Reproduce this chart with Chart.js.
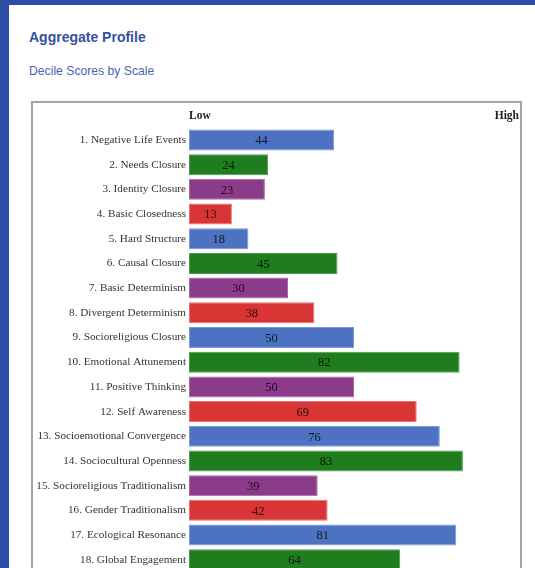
<!DOCTYPE html>
<html lang="en">
<head>
  <meta charset="UTF-8">
  <title>Aggregate Profile</title>
  <script src="https://cdn.jsdelivr.net/npm/chart.js"></script>
  <style>
    html, body { margin: 0; padding: 0; width: 535px; height: 568px; overflow: hidden; background: #2c4ea6; }
    #panel { position: absolute; left: 9px; top: 5px; right: 0; bottom: 0; background: #fff; }
    h1 { position: absolute; left: 29px; top: 29px; margin: 0; font: bold 14px "Liberation Sans", Arial, sans-serif; color: #35519f; }
    h2 { position: absolute; left: 29px; top: 64px; margin: 0; font: 12.2px "Liberation Sans", Arial, sans-serif; color: #4865b4; }
    #box { position: absolute; left: 31px; top: 101px; width: 491px; height: 520px; box-sizing: border-box; border: 2px solid #a4a4a4; }
    #wrap { position: absolute; left: 0; top: 0; width: 535px; height: 600px; }
  </style>
</head>
<body>
  <div id="panel"></div>
  <h1>Aggregate Profile</h1>
  <h2>Decile Scores by Scale</h2>
  <div id="box"></div>
  <div id="wrap"><canvas id="profileChart"></canvas></div>
  <script>
    // Scales and their decile scores
    const scales = [
      '1. Negative Life Events',
      '2. Needs Closure',
      '3. Identity Closure',
      '4. Basic Closedness',
      '5. Hard Structure',
      '6. Causal Closure',
      '7. Basic Determinism',
      '8. Divergent Determinism',
      '9. Socioreligious Closure',
      '10. Emotional Attunement',
      '11. Positive Thinking',
      '12. Self Awareness',
      '13. Socioemotional Convergence',
      '14. Sociocultural Openness',
      '15. Socioreligious Traditionalism',
      '16. Gender Traditionalism',
      '17. Ecological Resonance',
      '18. Global Engagement'
    ];
    const scores = [44, 24, 23, 13, 18, 45, 30, 38, 50, 82, 50, 69, 76, 83, 39, 42, 81, 64];
    const axisEnds = ['Low', 'High'];

    // blue, green, purple, red repeating down the list
    const fills = ['#4e72c2', '#1f7d20', '#8b3b8a', '#d93535'];
    const edges = ['#7d98d6', '#4f9a50', '#a86aa6', '#e77070'];

    // prints each score in the middle of its bar
    const scoreLabels = {
      id: 'scoreLabels',
      afterDatasetsDraw(chart) {
        const ctx = chart.ctx;
        const meta = chart.getDatasetMeta(0);
        ctx.save();
        ctx.font = '12.5px "Liberation Serif", "Times New Roman", serif';
        ctx.fillStyle = 'rgba(0, 0, 0, 0.8)';
        ctx.textAlign = 'center';
        ctx.textBaseline = 'middle';
        meta.data.forEach((bar, i) => {
          ctx.fillText(String(scores[i]), (bar.x + bar.base) / 2, bar.y + 1);
        });
        ctx.restore();
      }
    };

    const ctx = document.getElementById('profileChart').getContext('2d');
    const profileChart = new Chart(ctx, {
      type: 'bar',
      data: {
        labels: scales,
        datasets: [{
          data: scores,
          backgroundColor: scores.map((v, i) => fills[i % 4]),
          borderColor: scores.map((v, i) => edges[i % 4]),
          borderWidth: 1,
          borderSkipped: false,
          barPercentage: 0.85,
          categoryPercentage: 1
        }]
      },
      options: {
        indexAxis: 'y',
        responsive: true,
        maintainAspectRatio: false,
        animation: false,
        layout: { padding: { left: 0, right: 16, top: 105.6, bottom: 27.9 } },
        plugins: {
          legend: { display: false },
          tooltip: { enabled: false }
        },
        scales: {
          x: {
            position: 'top',
            min: 0,
            max: 100,
            grid: { display: false, drawTicks: false },
            border: { display: false },
            ticks: {
              stepSize: 100,
              align: 'inner',
              padding: 5,
              maxRotation: 0,
              color: '#222',
              font: { family: '"Liberation Serif", "Times New Roman", serif', size: 11.5, weight: 'bold' },
              callback: (v) => v === 0 ? axisEnds[0] : (v === 100 ? axisEnds[1] : '')
            },
            afterFit: (s) => { s.height = 22; }
          },
          y: {
            grid: { display: false, drawTicks: false },
            border: { display: false },
            ticks: {
              padding: 3,
              color: '#333',
              font: { family: '"Liberation Serif", "Times New Roman", serif', size: 11.2 }
            },
            afterFit: (s) => { s.width = 189; }
          }
        }
      },
      plugins: [scoreLabels]
    });
  </script>
</body>
</html>
